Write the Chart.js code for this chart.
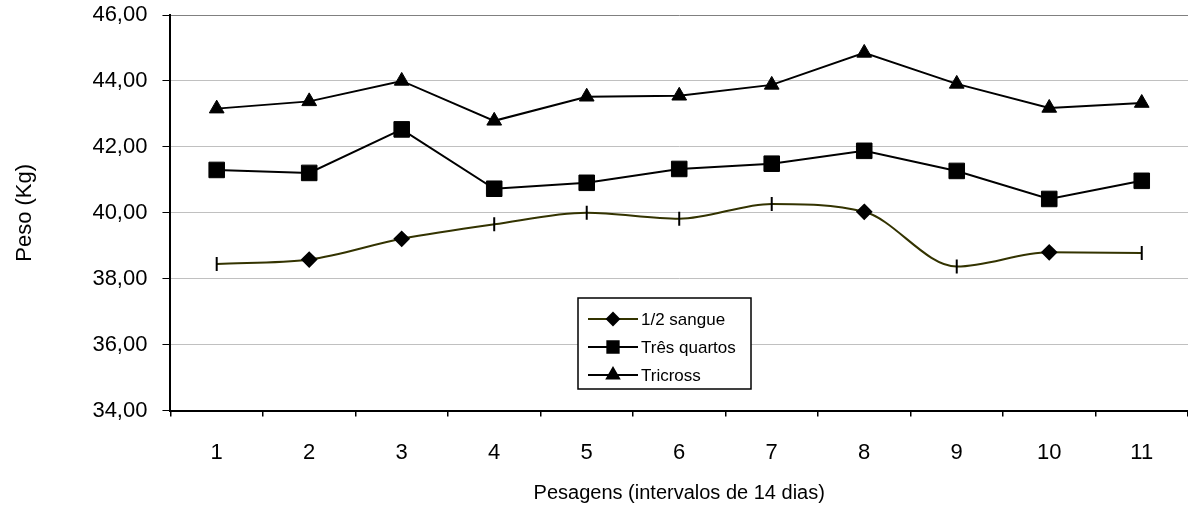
<!DOCTYPE html>
<html>
<head>
<meta charset="utf-8">
<script src="https://cdn.jsdelivr.net/npm/chart.js@4/dist/chart.umd.min.js"></script>
<style>
  body { margin: 0; background: #fff; }
  #wrap { width: 1188px; height: 519px; }
</style>
</head>
<body>
<div id="wrap"><canvas id="peso" width="1188" height="519"></canvas></div>
<script>
const pesagens = ['1', '2', '3', '4', '5', '6', '7', '8', '9', '10', '11'];
const meioSangue = [38.45, 38.58, 39.21, 39.65, 40.00, 39.82, 40.27, 40.03, 38.37, 38.80, 38.78];
const tresQuartos = [41.30, 41.21, 42.53, 40.73, 40.91, 41.33, 41.49, 41.88, 41.27, 40.42, 40.97];
const tricross = [43.16, 43.38, 44.00, 42.79, 43.52, 43.55, 43.88, 44.85, 43.91, 43.18, 43.33];

// Excel style markers on the 1/2 sangue line: diamonds at some points, bars at the rest
const meioMarkers = ['line', 'rectRot', 'rectRot', 'line', 'line', 'line', 'line', 'rectRot', 'line', 'rectRot', 'line'];

const fmt = (v) => v.toFixed(2).replace('.', ',');
const font = 'Liberation Sans, Arial, sans-serif';

// legend box drawn inside the plot, like the original
const boxLegend = {
	id: 'boxLegend',
	afterDraw(chart) {
		const ctx = chart.ctx;
		const x0 = 578, y0 = 298, w = 173, h = 91;
		ctx.save();
		ctx.fillStyle = '#fff';
		ctx.fillRect(x0, y0, w, h);
		ctx.strokeStyle = '#000';
		ctx.lineWidth = 1.5;
		ctx.strokeRect(x0, y0, w, h);
		chart.data.datasets.forEach((ds, i) => {
			const y = y0 + 21 + i * 28;
			ctx.strokeStyle = ds.borderColor;
			ctx.lineWidth = 2;
			ctx.beginPath();
			ctx.moveTo(x0 + 10, y);
			ctx.lineTo(x0 + 60, y);
			ctx.stroke();
			ctx.fillStyle = '#000';
			ctx.strokeStyle = '#000';
			Chart.helpers.drawPoint(ctx, {
				pointStyle: ds.legendStyle,
				rotation: 0,
				radius: ds.legendRadius,
				borderWidth: 1
			}, x0 + 35, y);
			ctx.fillStyle = '#000';
			ctx.font = '17px ' + font;
			ctx.textBaseline = 'middle';
			ctx.fillText(ds.label, x0 + 63, y + 1);
		});
		ctx.restore();
	}
};

const ctx = document.getElementById('peso').getContext('2d');
const chart = new Chart(ctx, {
	type: 'line',
	data: {
		labels: pesagens,
		datasets: [{
			label: '1/2 sangue',
			data: meioSangue,
			borderColor: '#333300',
			backgroundColor: '#000',
			borderWidth: 2,
			cubicInterpolationMode: 'monotone',
			pointStyle: meioMarkers,
			pointRotation: 90,
			pointRadius: 7,
			pointBorderColor: '#000',
			pointBackgroundColor: '#000',
			pointBorderWidth: 2,
			legendStyle: 'rectRot',
			legendRadius: 6
		}, {
			label: 'Três quartos',
			data: tresQuartos,
			borderColor: '#000',
			backgroundColor: '#000',
			borderWidth: 2,
			tension: 0,
			pointStyle: 'rect',
			pointRadius: 11,
			pointBorderWidth: 1,
			pointBorderColor: '#000',
			pointBackgroundColor: '#000',
			legendStyle: 'rect',
			legendRadius: 8
		}, {
			label: 'Tricross',
			data: tricross,
			borderColor: '#000',
			backgroundColor: '#000',
			borderWidth: 2,
			tension: 0,
			pointStyle: 'triangle',
			pointRadius: 8.5,
			pointBorderWidth: 1,
			pointBorderColor: '#000',
			pointBackgroundColor: '#000',
			legendStyle: 'triangle',
			legendRadius: 7
		}]
	},
	options: {
		responsive: false,
		animation: false,
		devicePixelRatio: 1,
		layout: { autoPadding: false, padding: { top: 15, right: 0, left: 4, bottom: 10 } },
		plugins: {
			legend: { display: false },
			tooltip: { enabled: false }
		},
		scales: {
			x: {
				offset: true,
				border: { color: '#000', width: 2 },
				grid: { offset: true, drawOnChartArea: false, tickLength: 6, tickColor: '#000', lineWidth: 1.5 },
				ticks: { color: '#000', font: { family: font, size: 22 }, padding: 23, maxRotation: 0 },
				title: { display: true, text: 'Pesagens (intervalos de 14 dias)', color: '#000', font: { family: font, size: 20 }, padding: { top: -8, bottom: 4 } },
				afterFit: (scale) => { scale.paddingLeft = 0; scale.paddingRight = 0; }
			},
			y: {
				min: 34,
				max: 46,
				border: { color: '#000', width: 2 },
				grid: {
					color: (c) => (c.tick && c.tick.value === 46 ? '#808080' : '#c0c0c0'),
					tickColor: '#000',
					tickLength: 8,
					lineWidth: 1
				},
				ticks: { stepSize: 2, color: '#000', font: { family: font, size: 22 }, padding: 15, callback: (v) => fmt(v) },
				title: { display: true, text: 'Peso (Kg)', color: '#000', font: { family: font, size: 22 }, padding: { top: 8, bottom: 39 } },
				afterFit: (scale) => { scale.paddingTop = 0; }
			}
		}
	},
	plugins: [boxLegend]
});
</script>
</body>
</html>
